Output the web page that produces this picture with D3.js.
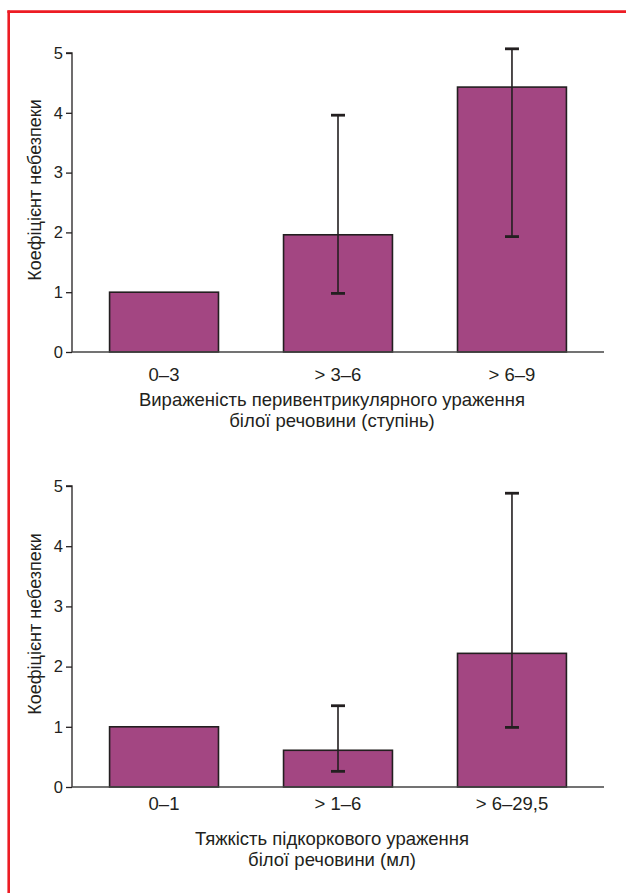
<!DOCTYPE html>
<html>
<head>
<meta charset="utf-8">
<script src="https://cdn.jsdelivr.net/npm/d3@7"></script>
<style>
  html, body { margin: 0; padding: 0; background: #fff; }
  svg { display: block; }
  text { font-family: "Liberation Sans", Arial, sans-serif; fill: #231f20; }
</style>
</head>
<body>
<svg id="chart" width="626" height="893"></svg>
<script>
// ---- data ----
const yTicks = [0, 1, 2, 3, 4, 5];
const yLabel = "Коефіцієнт небезпеки";

const cats1 = ["0–3", "> 3–6", "> 6–9"];
const vals1 = [1.0, 1.96, 4.43];
const lo1 = [null, 0.98, 1.93];
const hi1 = [null, 3.96, 5.07];
const title1 = ["Вираженість перивентрикулярного ураження", "білої речовини (ступінь)"];

const cats2 = ["0–1", "> 1–6", "> 6–29,5"];
const vals2 = [1.0, 0.61, 2.22];
const lo2 = [null, 0.26, 0.99];
const hi2 = [null, 1.35, 4.88];
const title2 = ["Тяжкість підкоркового ураження", "білої речовини (мл)"];

const barColor = "#a34682";
const inkColor = "#231f20";

const svg = d3.select("#chart");

// red frame (left and top)
svg.append("line").attr("x1", 8.7).attr("x2", 8.7).attr("y1", 10.5).attr("y2", 893)
  .attr("stroke", "#ed1c24").attr("stroke-width", 2.6);
svg.append("line").attr("x1", 7.4).attr("x2", 626).attr("y1", 11.6).attr("y2", 11.6)
  .attr("stroke", "#ed1c24").attr("stroke-width", 2.6);

function panel(cfg) {
  const { cats, vals, lo, hi, title, yTop, yBase, labelY, titleY, yLabelCenter } = cfg;
  const x0 = 72, x1 = 604;
  const x = d3.scaleBand().domain(cats).range([x0, x1]).paddingInner(0.374).paddingOuter(0.216);
  const y = d3.scaleLinear().domain([0, 5]).range([yBase, yTop]);
  const g = svg.append("g");

  // bars
  g.selectAll("rect.bar").data(cats).enter().append("rect")
    .attr("class", "bar")
    .attr("x", d => x(d))
    .attr("width", x.bandwidth())
    .attr("y", (d, i) => y(vals[i]))
    .attr("height", (d, i) => y(0) - y(vals[i]))
    .attr("fill", barColor)
    .attr("stroke", inkColor)
    .attr("stroke-width", 1.6);

  // error bars
  const eb = cats.map((c, i) => ({ c, lo: lo[i], hi: hi[i] })).filter(d => d.lo !== null);
  const cx = d => x(d.c) + x.bandwidth() / 2;
  g.selectAll("line.ev").data(eb).enter().append("line")
    .attr("x1", cx).attr("x2", cx)
    .attr("y1", d => y(d.lo)).attr("y2", d => y(d.hi))
    .attr("stroke", inkColor).attr("stroke-width", 1.6);
  ["lo", "hi"].forEach(k => {
    g.selectAll("line.cap" + k).data(eb).enter().append("line")
      .attr("x1", d => cx(d) - 7).attr("x2", d => cx(d) + 7)
      .attr("y1", d => y(d[k])).attr("y2", d => y(d[k]))
      .attr("stroke", inkColor).attr("stroke-width", 2.8);
  });

  // y axis
  const ya = d3.axisLeft(y).tickValues(yTicks).tickSize(6).tickPadding(3).tickFormat(d3.format("d"));
  const yg = g.append("g").attr("transform", `translate(${x0},0)`).call(ya);
  yg.select(".domain").attr("stroke", inkColor).attr("stroke-width", 1.3).attr("d", `M-6,${y(5)}H0V${y(0)}`);
  yg.selectAll(".tick line").attr("stroke", inkColor).attr("stroke-width", 1.3);
  yg.selectAll(".tick text").attr("font-size", 16.5).attr("font-family", "Liberation Sans, Arial, sans-serif").attr("fill", inkColor);

  // x axis baseline
  g.append("line").attr("x1", x0).attr("x2", x1).attr("y1", y(0)).attr("y2", y(0))
    .attr("stroke", "#444").attr("stroke-width", 1.3);

  // category labels
  g.selectAll("text.cat").data(cats).enter().append("text")
    .attr("x", d => x(d) + x.bandwidth() / 2)
    .attr("y", labelY)
    .attr("text-anchor", "middle")
    .attr("font-size", 18.5)
    .text(d => d);

  // axis title
  title.forEach((t, i) => {
    g.append("text").attr("x", 332).attr("y", titleY + i * 21)
      .attr("text-anchor", "middle").attr("font-size", 18.5).text(t);
  });

  // y label
  g.append("text")
    .attr("transform", `translate(41,${yLabelCenter}) rotate(-90)`)
    .attr("text-anchor", "middle")
    .attr("font-size", 18)
    .text(yLabel);
}

panel({ cats: cats1, vals: vals1, lo: lo1, hi: hi1, title: title1,
  yTop: 53, yBase: 352, labelY: 381, titleY: 406, yLabelCenter: 190 });
panel({ cats: cats2, vals: vals2, lo: lo2, hi: hi2, title: title2,
  yTop: 486, yBase: 787, labelY: 810, titleY: 845, yLabelCenter: 624 });
</script>
</body>
</html>
